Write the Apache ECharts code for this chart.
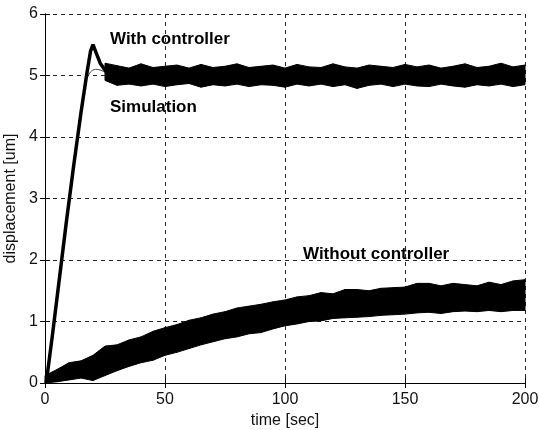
<!DOCTYPE html>
<html>
<head>
<meta charset="utf-8">
<script src="https://cdn.jsdelivr.net/npm/echarts@6/dist/echarts.min.js"></script>
<style>
  html, body { margin: 0; padding: 0; background: #fff; }
  #chart { width: 539px; height: 430px; }
</style>
</head>
<body>
<div id="chart"></div>
<script>
// ticks
const xTicks = [0, 50, 100, 150, 200]
const yTicks = [0, 1, 2, 3, 4, 5, 6]

// with controller: step response rise + overshoot (t, value)
const riseTime = [0.5, 3, 6, 9, 12, 15, 17.5, 19, 20, 21, 23, 25.5]
const riseValue = [0, 0.75, 1.7, 2.65, 3.55, 4.4, 5.05, 5.4, 5.5, 5.4, 5.2, 5.06]

// with controller: noisy settled band (every 5 s from 25 to 200)
const bandTime = [25, 30, 35, 40, 45, 50, 55, 60, 65, 70, 75, 80, 85, 90, 95, 100, 105, 110,
  115, 120, 125, 130, 135, 140, 145, 150, 155, 160, 165, 170, 175, 180, 185, 190, 195, 200]
const withUpper = [5.2, 5.16, 5.12, 5.19, 5.13, 5.15, 5.17, 5.12, 5.18, 5.13, 5.15, 5.19, 5.13, 5.15,
  5.17, 5.12, 5.18, 5.14, 5.13, 5.19, 5.14, 5.12, 5.17, 5.15, 5.13, 5.18, 5.14, 5.17, 5.12, 5.15,
  5.19, 5.13, 5.15, 5.2, 5.14, 5.17]
const withLower = [4.92, 4.84, 4.86, 4.83, 4.86, 4.82, 4.85, 4.87, 4.81, 4.85, 4.83, 4.86, 4.82, 4.85,
  4.84, 4.81, 4.86, 4.83, 4.86, 4.82, 4.85, 4.79, 4.84, 4.86, 4.82, 4.86, 4.83, 4.82, 4.86, 4.83,
  4.81, 4.85, 4.83, 4.86, 4.82, 4.85]

// simulation (thin line)
const simTime = [0.5, 3, 6, 9, 12, 15, 17, 19, 21, 23, 26, 30, 200]
const simValue = [0, 0.75, 1.7, 2.65, 3.55, 4.4, 4.9, 5.06, 5.1, 5.09, 5.04, 5.0, 5.0]

// without controller: noisy band (every 5 s from 0 to 200)
const slowTime = [0, 5, 10, 15, 20, 25, 30, 35, 40, 45, 50, 55, 60, 65, 70, 75, 80, 85, 90, 95, 100,
  105, 110, 115, 120, 125, 130, 135, 140, 145, 150, 155, 160, 165, 170, 175, 180, 185, 190, 195, 200]
const slowUpper = [0.12, 0.22, 0.33, 0.36, 0.45, 0.6, 0.62, 0.7, 0.75, 0.84, 0.9, 0.95, 1.02, 1.06,
  1.12, 1.16, 1.22, 1.25, 1.28, 1.32, 1.35, 1.4, 1.42, 1.47, 1.45, 1.52, 1.52, 1.5, 1.54, 1.55, 1.56,
  1.62, 1.62, 1.58, 1.62, 1.6, 1.58, 1.64, 1.6, 1.66, 1.68]
const slowLower = [0, 0.02, 0.05, 0.08, 0.04, 0.12, 0.2, 0.27, 0.33, 0.37, 0.45, 0.5, 0.56, 0.62,
  0.67, 0.72, 0.75, 0.8, 0.82, 0.88, 0.93, 0.96, 1.0, 1.01, 1.05, 1.06, 1.07, 1.08, 1.1, 1.11, 1.12,
  1.14, 1.15, 1.13, 1.16, 1.17, 1.16, 1.18, 1.16, 1.18, 1.18]

const zip = (a, b) => a.map((v, i) => [v, b[i]])
const bandRows = (t, lo, hi) => t.slice(0, -1).map((v, i) => [v, lo[i], hi[i], t[i + 1], lo[i + 1], hi[i + 1]])

const font = '"Liberation Sans", Arial, sans-serif'

function bandSeries (rows) {
  return {
    type: 'custom',
    silent: true,
    z: 5,
    data: rows,
    encode: { x: [0, 3], y: [1, 2, 4, 5] },
    renderItem (params, api) {
      const p1 = api.coord([api.value(0), api.value(1)])
      const p2 = api.coord([api.value(0), api.value(2)])
      const p3 = api.coord([api.value(3), api.value(5)])
      const p4 = api.coord([api.value(3), api.value(4)])
      return {
        type: 'polygon',
        shape: { points: [p1, p2, p3, p4] },
        style: { fill: '#000', stroke: '#000', lineWidth: 1 }
      }
    }
  }
}

const axisCommon = {
  type: 'value',
  axisLine: { show: true, lineStyle: { color: '#000', width: 1 } },
  axisTick: { show: true, inside: true, length: 5, lineStyle: { color: '#000' } }
}

const chart = echarts.init(document.getElementById('chart'), null, { renderer: 'canvas' })
chart.setOption({
  backgroundColor: '#fff',
  animation: false,
  grid: { left: 45, right: 14, top: 14, bottom: 47, containLabel: false, outerBoundsMode: 'none' },
  xAxis: [
    {
      ...axisCommon,
      min: xTicks[0], max: xTicks[xTicks.length - 1], interval: 50,
      position: 'bottom',
      name: 'time [sec]', nameLocation: 'middle', nameGap: 28,
      nameTextStyle: { fontFamily: font, fontSize: 16, color: '#111' },
      axisLabel: { fontFamily: font, fontSize: 16, color: '#111', margin: 9 },
      splitLine: { show: true, lineStyle: { color: '#222', type: [4, 4], width: 1 } }
    },
    {
      ...axisCommon,
      min: xTicks[0], max: xTicks[xTicks.length - 1], interval: 50,
      position: 'top',
      axisLabel: { show: false },
      splitLine: { show: false }
    }
  ],
  yAxis: [
    {
      ...axisCommon,
      min: yTicks[0], max: yTicks[yTicks.length - 1], interval: 1,
      position: 'left',
      name: 'displacement [um]', nameLocation: 'middle', nameGap: 22,
      nameTextStyle: { fontFamily: font, fontSize: 16, color: '#111' },
      axisLabel: { fontFamily: font, fontSize: 16, color: '#111', margin: 7 },
      splitLine: { show: true, lineStyle: { color: '#222', type: [4, 4], width: 1 } }
    },
    {
      ...axisCommon,
      min: yTicks[0], max: yTicks[yTicks.length - 1], interval: 1,
      position: 'right',
      axisLabel: { show: false },
      splitLine: { show: false }
    }
  ],
  series: [
    {
      type: 'line',
      z: 1,
      data: zip(simTime, simValue),
      showSymbol: false,
      smooth: 0.3,
      lineStyle: { color: '#444', width: 1 }
    },
    bandSeries(bandRows(slowTime, slowLower, slowUpper)),
    bandSeries(bandRows(bandTime, withLower, withUpper)),
    {
      type: 'line',
      z: 6,
      data: zip(riseTime, riseValue),
      showSymbol: false,
      lineStyle: { color: '#000', width: 3.5 }
    }
  ],
  graphic: [
    { type: 'text', left: 110, top: 31, style: { text: 'With controller', font: 'bold 17px ' + font, fill: '#000' } },
    { type: 'text', left: 110, top: 99, style: { text: 'Simulation', font: 'bold 17px ' + font, fill: '#000' } },
    { type: 'text', left: 303, top: 246, style: { text: 'Without controller', font: 'bold 17px ' + font, fill: '#000' } }
  ]
})
</script>
</body>
</html>
